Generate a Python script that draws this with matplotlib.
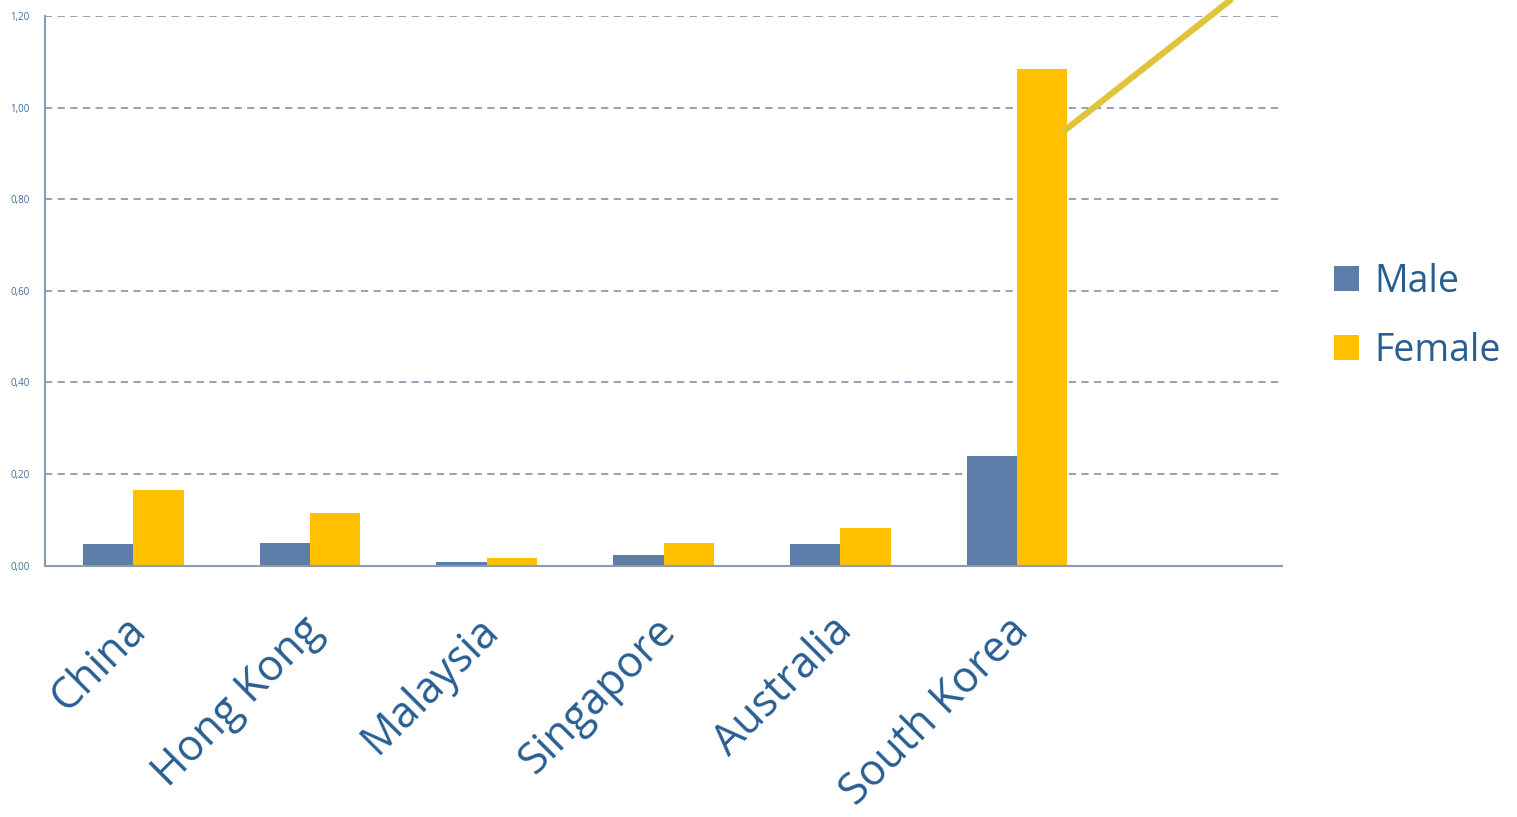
import matplotlib
matplotlib.use("Agg")
import matplotlib.pyplot as plt
import numpy as np

categories = ["China", "Hong Kong", "Malaysia", "Singapore", "Australia", "South Korea", ""]
male = [0.048, 0.050, 0.008, 0.023, 0.048, 0.239, 0.0]
female = [0.166, 0.114, 0.016, 0.050, 0.081, 1.085, 0.0]
yticks = [0.0, 0.2, 0.4, 0.6, 0.8, 1.0, 1.2]
ytick_labels = ["0,00", "0,20", "0,40", "0,60", "0,80", "1,00", "1,20"]
series_names = ["Male", "Female"]
line_x = [5.26, 6.4]
line_y = [0.947, 1.293]

plt.rcParams['font.family'] = ['Open Sans', 'DejaVu Sans']

fig = plt.figure(figsize=(15.17, 8.17), dpi=100)
ax = fig.add_axes([0.0297, 0.3078, 0.8154, 0.6726])

x = np.arange(len(categories))
w = 0.285
c_male = "#5B7DA8"
c_female = "#FFC000"
b1 = ax.bar(x - w / 2, male, width=w, color=c_male, label=series_names[0], zorder=3)
b2 = ax.bar(x + w / 2, female, width=w, color=c_female, label=series_names[1], zorder=3)

ax.set_xlim(-0.5, len(categories) - 0.5)
ax.set_ylim(0, 1.2)
ax.set_yticks(yticks)
ax.set_yticklabels(ytick_labels, fontsize=7, color="#3F6E9E")
ax.tick_params(axis='y', length=0, pad=11)
ax.set_xticks(x)
ax.set_xticklabels(categories, rotation=45, ha='right', va='top', rotation_mode='anchor',
                   fontsize=31, color="#285E92")
ax.tick_params(axis='x', length=0, pad=31)
for lbl in ax.get_xticklabels():
    lbl.set_transform(lbl.get_transform() + matplotlib.transforms.ScaledTranslation(-0.1, 0, fig.dpi_scale_trans))

ax.yaxis.grid(True, linestyle=(0, (4, 3)), color="#8C9BB0", linewidth=1.3, zorder=0)
for s in ["top", "right"]:
    ax.spines[s].set_visible(False)
ax.spines["left"].set_color("#8C9BB0")
ax.spines["bottom"].set_color("#8C9BB0")
ax.spines["left"].set_linewidth(1.5)
ax.spines["bottom"].set_linewidth(1.5)
ax.spines["bottom"].set_zorder(4)

ax.plot(line_x, line_y, color="#E0C43A", linewidth=4.5, clip_on=False, zorder=5, solid_capstyle='butt')

leg = fig.legend(handles=[b1, b2], loc='center left', bbox_to_anchor=(0.862, 0.613),
                 frameon=False, fontsize=27, labelcolor="#285E92", handlelength=0.68,
                 handleheight=0.68, handletextpad=0.4, labelspacing=0.83, borderpad=0.2)

fig.savefig("out.png", dpi=100)
